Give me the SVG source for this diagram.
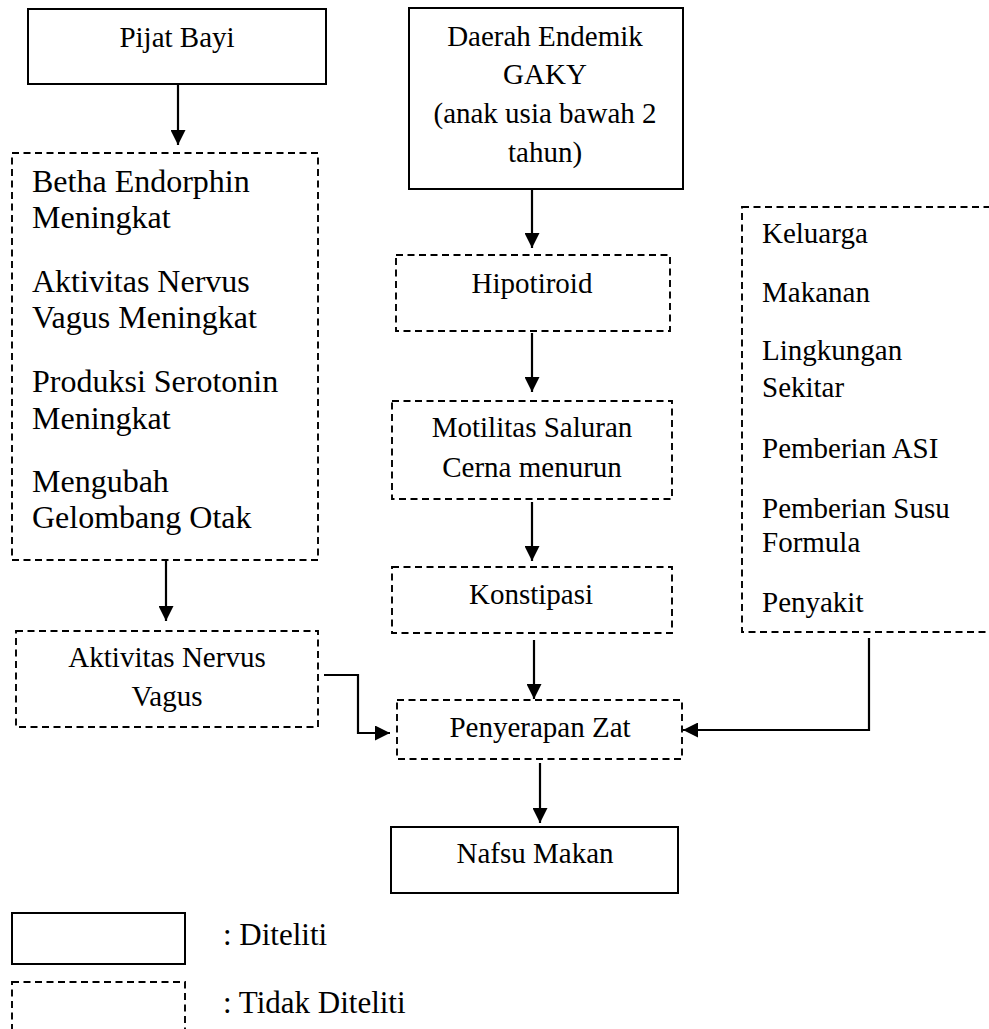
<svg xmlns="http://www.w3.org/2000/svg" width="989" height="1029" viewBox="0 0 989 1029">
<style>
text{font-family:'Liberation Serif','DejaVu Serif',serif;fill:#000}
.t{font-size:29px;text-anchor:middle}
.l{font-size:32px}
.r{font-size:29px}
.g{font-size:31px}
.solid{fill:#fff;stroke:#000;stroke-width:2}
.dash{fill:none;stroke:#000;stroke-width:1.9;stroke-dasharray:7 4.5}
.c{fill:none;stroke:#000;stroke-width:2.2}
</style>
<defs>
<marker id="ah" markerUnits="userSpaceOnUse" markerWidth="15" markerHeight="15" refX="15" refY="7.5" orient="auto">
<path d="M0,0 L15,7.5 L0,15 z" fill="#000"/>
</marker>
</defs>
<rect width="989" height="1029" fill="#fff"/>
<g id="connectors">
<path class="c" d="M178,84 V145" marker-end="url(#ah)"/>
<path class="c" d="M166,560 V621" marker-end="url(#ah)"/>
<path class="c" d="M532,189 V248" marker-end="url(#ah)"/>
<path class="c" d="M532,333 V392" marker-end="url(#ah)"/>
<path class="c" d="M532,502 V561" marker-end="url(#ah)"/>
<path class="c" d="M534,640 V699" marker-end="url(#ah)"/>
<path class="c" d="M324,675 H358 V733 H390" marker-end="url(#ah)"/>
<path class="c" d="M869,638 V730 H683" marker-end="url(#ah)"/>
<path class="c" d="M540,763 V823" marker-end="url(#ah)"/>
</g>
<g id="pijat-bayi">
<rect class="solid" x="28" y="9" width="298" height="75"/>
<text class="t" x="177" y="47">Pijat Bayi</text>
</g>
<g id="efek-pijat">
<rect class="dash" x="12" y="153" width="306" height="407"/>
<text class="l" x="32" y="192">Betha Endorphin</text>
<text class="l" x="32" y="228">Meningkat</text>
<text class="l" x="32" y="292">Aktivitas Nervus</text>
<text class="l" x="32" y="328">Vagus Meningkat</text>
<text class="l" x="32" y="392">Produksi Serotonin</text>
<text class="l" x="32" y="429">Meningkat</text>
<text class="l" x="32" y="492">Mengubah</text>
<text class="l" x="32" y="528">Gelombang Otak</text>
</g>
<g id="aktivitas-nervus-vagus">
<rect class="dash" x="16" y="631" width="302" height="96"/>
<text class="t" x="167" y="667">Aktivitas Nervus</text>
<text class="t" x="167" y="706">Vagus</text>
</g>
<g id="daerah-endemik">
<rect class="solid" x="409" y="8" width="274" height="181"/>
<text class="t" x="545" y="46">Daerah Endemik</text>
<text class="t" x="545" y="84">GAKY</text>
<text class="t" x="545" y="123">(anak usia bawah 2</text>
<text class="t" x="545" y="162">tahun)</text>
</g>
<g id="hipotiroid">
<rect class="dash" x="396" y="255" width="274" height="76"/>
<text class="t" x="532" y="293">Hipotiroid</text>
</g>
<g id="motilitas">
<rect class="dash" x="392" y="401" width="280" height="98"/>
<text class="t" x="532" y="437">Motilitas Saluran</text>
<text class="t" x="532" y="477">Cerna menurun</text>
</g>
<g id="konstipasi">
<rect class="dash" x="392" y="567" width="280" height="66"/>
<text class="t" x="531" y="604">Konstipasi</text>
</g>
<g id="faktor-lain">
<rect class="dash" x="742" y="207" width="260" height="425"/>
<text class="r" x="762" y="243">Keluarga</text>
<text class="r" x="762" y="302">Makanan</text>
<text class="r" x="762" y="360">Lingkungan</text>
<text class="r" x="762" y="397">Sekitar</text>
<text class="r" x="762" y="458">Pemberian ASI</text>
<text class="r" x="762" y="518">Pemberian Susu</text>
<text class="r" x="762" y="552">Formula</text>
<text class="r" x="762" y="612">Penyakit</text>
</g>
<g id="penyerapan-zat">
<rect class="dash" x="397" y="700" width="285" height="59"/>
<text class="t" x="540" y="737">Penyerapan Zat</text>
</g>
<g id="nafsu-makan">
<rect class="solid" x="391" y="827" width="287" height="66"/>
<text class="t" x="535" y="863">Nafsu Makan</text>
</g>
<g id="legend">
<rect class="solid" x="12" y="913" width="173" height="51"/>
<text class="g" x="223" y="945">: Diteliti</text>
<rect class="dash" x="12" y="982" width="173" height="70"/>
<text class="g" x="223" y="1013">: Tidak Diteliti</text>
</g>
</svg>
